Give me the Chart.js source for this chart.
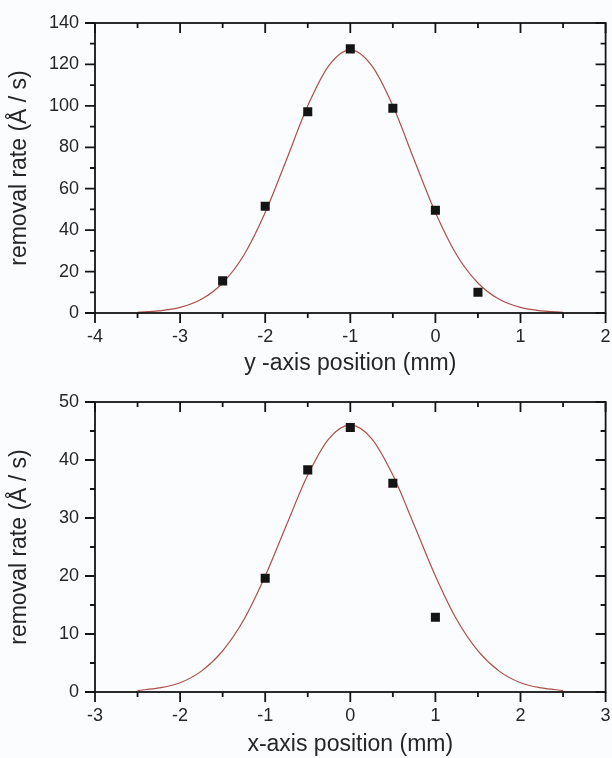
<!DOCTYPE html>
<html>
<head>
<meta charset="utf-8">
<script src="https://cdn.jsdelivr.net/npm/chart.js@4.4.1/dist/chart.umd.min.js"></script>
<style>
  html, body { margin: 0; padding: 0; background: #fbfcfd; }
  .panel { width: 612px; height: 379px; }
</style>
</head>
<body>
<div class="panel"><canvas id="scanY" width="612" height="379"></canvas></div>
<div class="panel"><canvas id="scanX" width="612" height="379"></canvas></div>
<script>
// top panel: scan along y
const yScanPos = [-2.5, -2, -1.5, -1, -0.5, 0, 0.5];
const yScanRate = [15.5, 51.5, 97.2, 127.5, 98.8, 49.6, 10];
const yFitPos = [-3.5, -3.25, -3, -2.75, -2.5, -2.25, -2, -1.75, -1.5, -1.25, -1,
                 -0.75, -0.5, -0.25, 0, 0.25, 0.5, 0.75, 1, 1.25, 1.5];
const yFitRate = [0.3, 1, 2.7, 6.6, 14.5, 28, 48.5, 74, 100, 119.5, 127,
                  119.5, 100, 74, 48.5, 28, 14.5, 6.6, 2.7, 1, 0.3];
const yScanXTicks = [-4, -3, -2, -1, 0, 1, 2];
const yScanYTicks = [0, 20, 40, 60, 80, 100, 120, 140];

// bottom panel: scan along x
const xScanPos = [-1, -0.5, 0, 0.5, 1];
const xScanRate = [19.6, 38.3, 45.6, 36.0, 12.9];
const xFitPos = [-2.5, -2.25, -2, -1.75, -1.5, -1.25, -1, -0.75, -0.5, -0.25, 0,
                 0.25, 0.5, 0.75, 1, 1.25, 1.5, 1.75, 2, 2.25, 2.5];
const xFitRate = [0.25, 0.7, 1.6, 3.6, 7.1, 12.5, 20, 28.8, 37.4, 43.7, 46,
                  43.7, 37.4, 28.8, 20, 12.5, 7.1, 3.6, 1.6, 0.7, 0.25];
const xScanXTicks = [-3, -2, -1, 0, 1, 2, 3];
const xScanYTicks = [0, 10, 20, 30, 40, 50];

Chart.defaults.font.family = '"Liberation Sans", Arial, sans-serif';
Chart.defaults.color = '#262626';

// Origin-style frame: bottom/left ticks outward, top/right ticks inward, minor ticks halfway
const frameTicks = {
    id: 'frameTicks',
    afterDraw(chart) {
        const { ctx, chartArea: a, scales: { x, y } } = chart;
        const xs = x.ticks.map(t => t.value);
        const ys = y.ticks.map(t => t.value);
        ctx.save();
        ctx.strokeStyle = '#151515';
        ctx.lineWidth = 1.8;
        ctx.strokeRect(a.left, a.top, a.right - a.left, a.bottom - a.top);
        ctx.beginPath();
        xs.forEach((v, i) => {
            const px = x.getPixelForValue(v);
            ctx.moveTo(px, a.bottom); ctx.lineTo(px, a.bottom + 10);
            ctx.moveTo(px, a.top); ctx.lineTo(px, a.top + 10);
            if (i < xs.length - 1) {
                const m = x.getPixelForValue((v + xs[i + 1]) / 2);
                ctx.moveTo(m, a.bottom); ctx.lineTo(m, a.bottom + 5);
                ctx.moveTo(m, a.top); ctx.lineTo(m, a.top + 5);
            }
        });
        ys.forEach((v, i) => {
            const py = y.getPixelForValue(v);
            ctx.moveTo(a.left, py); ctx.lineTo(a.left - 10, py);
            ctx.moveTo(a.right, py); ctx.lineTo(a.right - 10, py);
            if (i < ys.length - 1) {
                const m = y.getPixelForValue((v + ys[i + 1]) / 2);
                ctx.moveTo(a.left, m); ctx.lineTo(a.left - 5, m);
                ctx.moveTo(a.right, m); ctx.lineTo(a.right - 5, m);
            }
        });
        ctx.stroke();
        ctx.restore();
    }
};

function makeChart(id, pos, rate, fitPos, fitRate, xTicks, yTicks, xTitle, titlePad) {
    const ctx = document.getElementById(id).getContext('2d');
    return new Chart(ctx, {
        type: 'scatter',
        data: {
            datasets: [{
                label: 'measured',
                data: pos.map((p, i) => ({ x: p, y: rate[i] })),
                pointStyle: 'rect',
                pointRadius: 6.4,
                backgroundColor: '#141414',
                borderWidth: 0
            }, {
                label: 'fit',
                data: fitPos.map((p, i) => ({ x: p, y: fitRate[i] })),
                showLine: true,
                cubicInterpolationMode: 'monotone',
                borderColor: '#ad4f4b',
                borderWidth: 1.2,
                pointRadius: 0
            }]
        },
        options: {
            responsive: false,
            animation: false,
            layout: { padding: { top: 23, right: 4, left: 0, bottom: 0 } },
            plugins: { legend: { display: false }, tooltip: { enabled: false } },
            scales: {
                x: {
                    type: 'linear',
                    min: xTicks[0],
                    max: xTicks[xTicks.length - 1],
                    afterBuildTicks: s => { s.ticks = xTicks.map(v => ({ value: v })); },
                    afterFit: s => { s.height = 66; s.paddingLeft = 0; s.paddingRight = 0; },
                    grid: { display: false, drawTicks: false },
                    border: { display: false },
                    ticks: { font: { size: 18 }, padding: 13, maxRotation: 0, autoSkip: false },
                    title: {
                        display: true,
                        text: xTitle,
                        font: { size: 23 },
                        padding: { top: 0, bottom: titlePad }
                    }
                },
                y: {
                    min: yTicks[0],
                    max: yTicks[yTicks.length - 1],
                    afterBuildTicks: s => { s.ticks = yTicks.map(v => ({ value: v })); },
                    afterFit: s => { s.width = 95; s.paddingTop = 0; s.paddingBottom = 0; },
                    grid: { display: false, drawTicks: false },
                    border: { display: false },
                    ticks: { font: { size: 18 }, padding: 16, autoSkip: false },
                    title: {
                        display: true,
                        text: 'removal rate (Å / s)',
                        font: { size: 23 },
                        padding: { top: 6, bottom: 0 }
                    }
                }
            }
        },
        plugins: [frameTicks]
    });
}

makeChart('scanY', yScanPos, yScanRate, yFitPos, yFitRate, yScanXTicks, yScanYTicks,
          'y -axis position (mm)', 2);
makeChart('scanX', xScanPos, xScanRate, xFitPos, xFitRate, xScanXTicks, xScanYTicks,
          'x-axis position (mm)', 0);
</script>
</body>
</html>
